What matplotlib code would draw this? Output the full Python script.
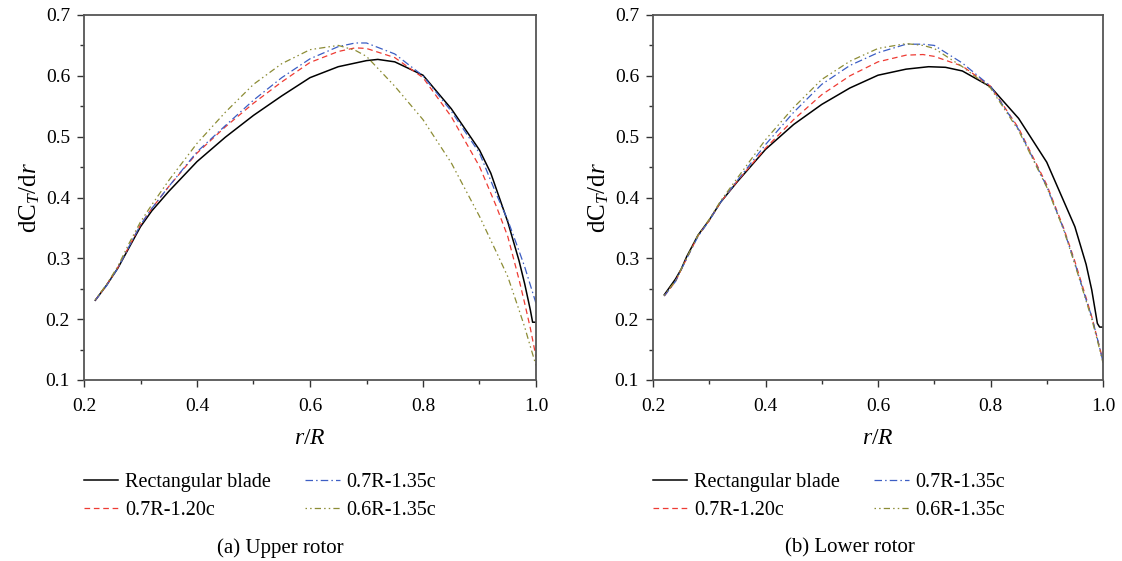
import numpy as np
import matplotlib
matplotlib.use("Agg")
import matplotlib.pyplot as plt
from matplotlib.ticker import MultipleLocator

plt.rcParams.update({
    "font.family": "Liberation Serif",
    "font.size": 14,
    "mathtext.fontset": "custom",
    "mathtext.rm": "Liberation Serif",
    "mathtext.it": "Liberation Serif:italic",
})

# radial stations r/R
r_rect_upper = [0.22, 0.24, 0.26, 0.28, 0.30, 0.32, 0.35, 0.40, 0.45, 0.50, 0.55, 0.60, 0.65,
                0.70, 0.72, 0.75, 0.80, 0.85, 0.90, 0.92, 0.95, 0.97, 0.98, 0.99, 0.994, 0.999]
r_rect_lower = [0.22, 0.24, 0.25, 0.26, 0.28, 0.30, 0.32, 0.35, 0.40, 0.45, 0.50, 0.55, 0.60,
                0.65, 0.69, 0.72, 0.75, 0.80, 0.85, 0.90, 0.95, 0.97, 0.98, 0.99, 0.994, 0.999]
r_mod = [0.22, 0.24, 0.26, 0.28, 0.30, 0.32, 0.35, 0.40, 0.45, 0.50, 0.55, 0.60, 0.65,
         0.68, 0.70, 0.75, 0.80, 0.85, 0.90, 0.93, 0.95, 0.97, 0.98, 0.99, 1.00]

# (a) upper rotor
up_rect = [0.231, 0.256, 0.284, 0.318, 0.352, 0.378, 0.410, 0.459, 0.499, 0.535, 0.567, 0.597, 0.615,
           0.625, 0.627, 0.623, 0.601, 0.546, 0.478, 0.440, 0.360, 0.296, 0.258, 0.215, 0.195, 0.195]
up_120 = [0.231, 0.256, 0.285, 0.320, 0.355, 0.382, 0.418, 0.473, 0.516, 0.555, 0.590, 0.622, 0.640,
          0.646, 0.645, 0.630, 0.597, 0.533, 0.451, 0.385, 0.336, 0.265, 0.226, 0.185, 0.138]
up_135 = [0.231, 0.255, 0.284, 0.320, 0.355, 0.382, 0.418, 0.475, 0.518, 0.560, 0.597, 0.628, 0.648,
          0.654, 0.654, 0.636, 0.600, 0.542, 0.473, 0.405, 0.363, 0.312, 0.286, 0.256, 0.226]
up_06_135 = [0.232, 0.257, 0.287, 0.325, 0.360, 0.388, 0.428, 0.489, 0.540, 0.586, 0.620, 0.643, 0.650,
             0.642, 0.632, 0.583, 0.528, 0.457, 0.369, 0.310, 0.270, 0.215, 0.187, 0.155, 0.124]

# (b) lower rotor
lo_rect = [0.240, 0.266, 0.282, 0.303, 0.338, 0.363, 0.392, 0.426, 0.479, 0.520, 0.553, 0.580, 0.601,
           0.611, 0.615, 0.614, 0.608, 0.582, 0.530, 0.458, 0.352, 0.290, 0.248, 0.193, 0.187, 0.187]
lo_120 = [0.238, 0.262, 0.300, 0.337, 0.362, 0.392, 0.427, 0.481, 0.528, 0.569, 0.600, 0.623, 0.634,
          0.635, 0.632, 0.616, 0.583, 0.514, 0.421, 0.350, 0.295, 0.235, 0.204, 0.168, 0.132]
lo_135 = [0.238, 0.262, 0.300, 0.336, 0.362, 0.392, 0.428, 0.487, 0.540, 0.586, 0.617, 0.638, 0.652,
          0.652, 0.650, 0.621, 0.583, 0.512, 0.418, 0.348, 0.292, 0.232, 0.204, 0.168, 0.130]
lo_06_135 = [0.239, 0.263, 0.301, 0.338, 0.364, 0.394, 0.432, 0.495, 0.548, 0.594, 0.624, 0.645, 0.653,
             0.650, 0.645, 0.615, 0.580, 0.510, 0.417, 0.347, 0.290, 0.230, 0.200, 0.165, 0.128]

labels = ["Rectangular blade", "0.7R-1.20c", "0.7R-1.35c", "0.6R-1.35c"]
colors = ["black", "#ee3b33", "#3c5ec4", "#8c8c35"]
dashes = [None, (4.5, 3), (6, 2.5, 1.2, 2.5), (1.2, 2.5, 1.2, 2.5, 5, 2.5)]

panels = [
    ([r_rect_upper, r_mod, r_mod, r_mod], [up_rect, up_120, up_135, up_06_135], "(a) Upper rotor"),
    ([r_rect_lower, r_mod, r_mod, r_mod], [lo_rect, lo_120, lo_135, lo_06_135], "(b) Lower rotor"),
]

fig = plt.figure(figsize=(11.22, 5.61), dpi=100)
ax_pos = [[84 / 1122, 1 - 380 / 561, 452 / 1122, 365 / 561],
          [653 / 1122, 1 - 380 / 561, 450 / 1122, 365 / 561]]
caption_x = [280 / 1122, 850 / 1122]

for k, (rs, ys, cap) in enumerate(panels):
    ax = fig.add_axes(ax_pos[k])
    for r, y, lab, c, d in zip(rs, ys, labels, colors, dashes):
        line, = ax.plot(r, y, color=c, lw=1.1 if d is None else 0.9, label=lab)
        if d is not None:
            line.set_dashes(d)
    ax.set_xlim(0.2, 1.0)
    ax.set_ylim(0.1, 0.7)
    ax.xaxis.set_major_locator(MultipleLocator(0.2))
    ax.xaxis.set_minor_locator(MultipleLocator(0.1))
    ax.yaxis.set_major_locator(MultipleLocator(0.1))
    ax.yaxis.set_minor_locator(MultipleLocator(0.05))
    ax.xaxis.set_major_formatter(plt.FormatStrFormatter("%.1f"))
    ax.yaxis.set_major_formatter(plt.FormatStrFormatter("%.1f"))
    ax.tick_params(which="major", direction="out", length=5, width=1.0, color="#333333",
                   labelsize=14, pad=5)
    ax.tick_params(axis="x", which="major", pad=8)
    ax.tick_params(which="minor", direction="out", length=3, width=1.0, color="#333333")
    for s in ax.spines.values():
        s.set_color("#555555")
        s.set_linewidth(1.3)
    ax.set_xlabel("$r/R$", fontsize=17, labelpad=9)
    ax.set_ylabel("dC$_{T}$/d$r$", fontsize=18, labelpad=3)
    ax.legend(loc="upper left", bbox_to_anchor=(0.0, -0.255), ncol=2, frameon=False,
              borderaxespad=0, borderpad=0, handlelength=1.7, handletextpad=0.35,
              columnspacing=1.7, labelspacing=0.45, fontsize=14.5)
    fig.text(caption_x[k], 1 - 548 / 561, cap, ha="center", va="center", fontsize=15)

fig.savefig("out.png", dpi=100)
